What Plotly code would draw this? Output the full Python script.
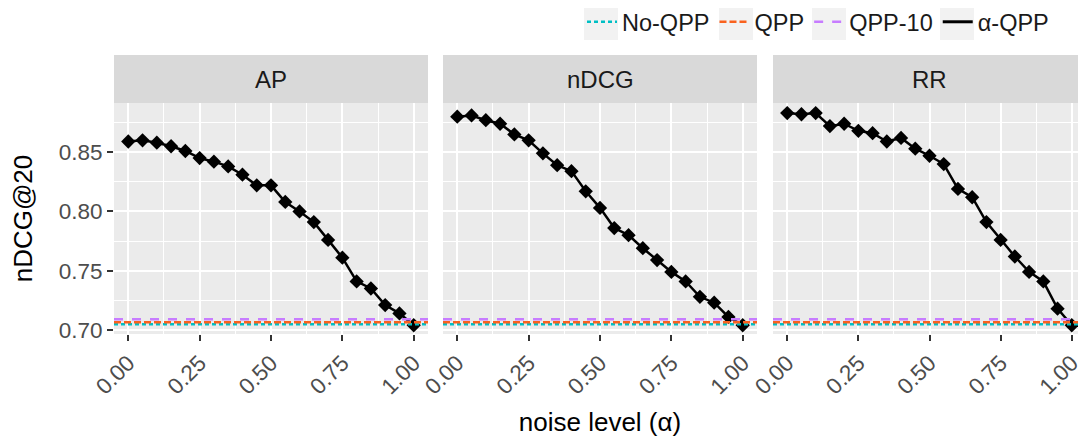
import plotly.graph_objects as go

# ---------------- data ----------------
noise_level = [0.00, 0.05, 0.10, 0.15, 0.20, 0.25, 0.30, 0.35, 0.40, 0.45, 0.50,
               0.55, 0.60, 0.65, 0.70, 0.75, 0.80, 0.85, 0.90, 0.95, 1.00]

panels = ["AP", "nDCG", "RR"]

alpha_qpp_ap = [0.859, 0.860, 0.858, 0.855, 0.851, 0.845, 0.842, 0.838, 0.831, 0.822, 0.822,
                0.808, 0.800, 0.791, 0.776, 0.761, 0.741, 0.735, 0.721, 0.714, 0.704]
alpha_qpp_ndcg = [0.880, 0.881, 0.877, 0.874, 0.865, 0.860, 0.849, 0.839, 0.834, 0.817, 0.803,
                  0.786, 0.780, 0.769, 0.759, 0.749, 0.741, 0.728, 0.723, 0.711, 0.704]
alpha_qpp_rr = [0.883, 0.882, 0.883, 0.872, 0.874, 0.868, 0.866, 0.859, 0.862, 0.853, 0.847,
                0.840, 0.819, 0.812, 0.791, 0.776, 0.762, 0.749, 0.741, 0.718, 0.704]

baseline_names = ["No-QPP", "QPP", "QPP-10"]
baseline_values = [0.7048, 0.7065, 0.7090]

x_ticks = [0.00, 0.25, 0.50, 0.75, 1.00]
x_tick_labels = ["0.00", "0.25", "0.50", "0.75", "1.00"]
y_ticks = [0.70, 0.75, 0.80, 0.85]
y_tick_labels = ["0.70", "0.75", "0.80", "0.85"]

x_range = [-0.05, 1.05]
y_range = [0.6966, 0.8915]

# ---------------- style ----------------
FONT = "Liberation Sans, Arial, Helvetica, sans-serif"
OFF = 8                      # the page body margin shifts the figure by 8 px
W, H = 1086 - OFF, 445 - OFF
baseline_colors = ["#00BFC4", "#F9621E", "#C77CFF"]
baseline_dash = ["4px,3px", "7px,3px", "9px,9px"]


def px_x(v):
    return (v - OFF) / W


def px_y(v):
    return 1 - (v - OFF) / H


x_domains = [[px_x(114), px_x(428)], [px_x(443), px_x(757)], [px_x(773), 1.0]]
y_domain = [px_y(334), px_y(103)]
strip_top = px_y(55)

# legend key background boxes (left edge of each key, screen px)
legend_key_left = [584, 719, 812, 940]

series = [alpha_qpp_ap, alpha_qpp_ndcg, alpha_qpp_rr]

fig = go.Figure()

for i, vals in enumerate(series):
    xa = "x" if i == 0 else f"x{i + 1}"
    fig.add_trace(go.Scatter(
        x=noise_level, y=vals, xaxis=xa, yaxis="y",
        mode="lines+markers", name="α-QPP", legendgroup="alpha",
        showlegend=False,
        line=dict(color="black", width=2.5),
        marker=dict(symbol="diamond", size=11, color="black"),
    ))

for i in range(3):
    xa = "x" if i == 0 else f"x{i + 1}"
    for j, (nm, val) in enumerate(zip(baseline_names, baseline_values)):
        fig.add_trace(go.Scatter(
            x=x_range, y=[val, val], xaxis=xa, yaxis="y",
            mode="lines", name=nm, legendgroup=nm,
            showlegend=(i == 0), legendrank=j + 1,
            line=dict(color=baseline_colors[j], width=2.5, dash=baseline_dash[j]),
        ))

# legend entry for α-QPP (line only, as in the reference key)
fig.add_trace(go.Scatter(
    x=[None], y=[None], xaxis="x", yaxis="y", mode="lines", name="α-QPP",
    legendgroup="alpha", showlegend=True, legendrank=4,
    line=dict(color="black", width=3),
))

axis_common = dict(
    range=x_range, tickvals=x_ticks, ticktext=x_tick_labels, tickangle=-45,
    showgrid=True, gridcolor="white", gridwidth=1.6, zeroline=False, showline=False,
    ticks="outside", ticklen=6, tickwidth=1.5, tickcolor="#333333",
    tickfont=dict(family=FONT, size=22.5, color="#4D4D4D"),
    minor=dict(dtick=0.125, tick0=0, showgrid=True, gridcolor="white", gridwidth=0.8),
    anchor="y", fixedrange=True, automargin=False,
)

layout = dict(
    width=W, height=H, autosize=False,
    margin=dict(l=0, r=0, t=0, b=0, autoexpand=False),
    paper_bgcolor="white", plot_bgcolor="#EBEBEB",
    font=dict(family=FONT, size=22, color="#1A1A1A"),
    showlegend=True,
    legend=dict(orientation="h", x=px_x(1054), xanchor="right", y=1 + 8 / H, yanchor="top",
                font=dict(family=FONT, size=23.5, color="#1A1A1A"),
                bgcolor="rgba(255,255,255,0)", traceorder="normal"),
    yaxis=dict(
        domain=y_domain, range=y_range, tickvals=y_ticks, ticktext=y_tick_labels,
        showgrid=True, gridcolor="white", gridwidth=1.6, zeroline=False, showline=False,
        ticks="outside", ticklen=6, tickwidth=1.5, tickcolor="#333333",
        tickfont=dict(family=FONT, size=22.5, color="#4D4D4D"),
        minor=dict(dtick=0.025, tick0=0.7, showgrid=True, gridcolor="white", gridwidth=0.8),
        title=dict(text="nDCG@20", font=dict(family=FONT, size=26, color="#000000"), standoff=18),
        anchor="x", fixedrange=True, automargin=False,
    ),
)
for i in range(3):
    key = "xaxis" if i == 0 else f"xaxis{i + 1}"
    ax = dict(axis_common)
    ax["domain"] = x_domains[i]
    if i == 1:
        ax["title"] = dict(text="noise level (α)", font=dict(family=FONT, size=26, color="#000000"),
                           standoff=14)
    layout[key] = ax

shapes = []
annotations = []
for i, name in enumerate(panels):
    xref = "x domain" if i == 0 else f"x{i + 1} domain"
    shapes.append(dict(type="rect", xref=xref, yref="paper", x0=0, x1=1,
                       y0=y_domain[1], y1=strip_top, fillcolor="#D9D9D9",
                       line=dict(width=0), layer="below"))
    annotations.append(dict(text=name, xref=xref, yref="paper", x=0.5,
                            y=(y_domain[1] + strip_top) / 2, showarrow=False,
                            xanchor="center", yanchor="middle",
                            font=dict(family=FONT, size=24, color="#1A1A1A")))
for left in legend_key_left:
    shapes.append(dict(type="rect", xref="paper", yref="paper",
                       x0=px_x(left), x1=px_x(left + 34), y0=px_y(40), y1=px_y(8),
                       fillcolor="#F2F2F2", line=dict(width=0), layer="below"))
layout["shapes"] = shapes
layout["annotations"] = annotations

fig.update_layout(**layout)
fig.write_html("out.html")
